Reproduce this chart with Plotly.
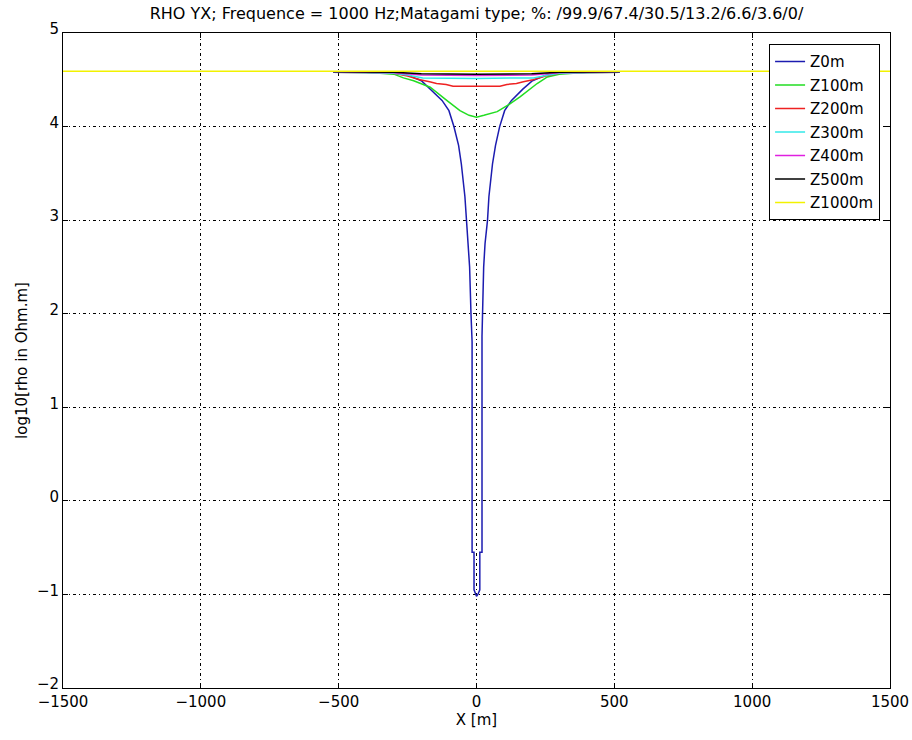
import plotly.graph_objects as go

title_text = "RHO YX; Frequence = 1000 Hz;Matagami type; %: /99.9/67.4/30.5/13.2/6.6/3.6/0/"

# Z0m
z0_x = [-520, -400, -300, -250, -200, -167, -125, -100, -82, -65, -55, -42, -37, -30, -25, -20, -18, -16, -16,
        -9, -9, -4, 0, 5, 12, 12, 20, 20, 22, 26, 31, 40, 45, 58, 69, 84, 102, 127, 168, 203, 252, 300, 400, 520]
z0_y = [4.58, 4.58, 4.57, 4.55, 4.49, 4.40, 4.28, 4.17, 4.00, 3.80, 3.60, 3.25, 3.00, 2.75, 2.50, 2.00, 1.76, 1.70, -0.55,
        -0.55, -0.95, -1.00, -1.02, -1.00, -0.95, -0.55, -0.55, 1.76, 2.00, 2.50, 2.75, 3.00, 3.25, 3.60, 3.80, 4.00, 4.17, 4.28, 4.40, 4.49, 4.55, 4.57, 4.58, 4.58]
# Z100m
z100_x = [-520, -400, -300, -265, -228, -168, -108, -60, -27, 0, 27, 75, 120, 159, 220, 257, 300, 400, 520]
z100_y = [4.58, 4.58, 4.56, 4.52, 4.49, 4.42, 4.28, 4.17, 4.12, 4.10, 4.12, 4.16, 4.24, 4.32, 4.46, 4.53, 4.56, 4.58, 4.58]
# Z200m
z200_x = [-520, -300, -250, -205, -170, -145, -110, -85, 0, 85, 110, 145, 170, 205, 250, 300, 520]
z200_y = [4.58, 4.57, 4.54, 4.50, 4.48, 4.46, 4.45, 4.43, 4.43, 4.43, 4.45, 4.46, 4.48, 4.50, 4.54, 4.57, 4.58]
# Z300m
z300_x = [-520, -300, -250, -195, 0, 207, 260, 300, 520]
z300_y = [4.58, 4.57, 4.55, 4.52, 4.515, 4.52, 4.55, 4.57, 4.58]
# Z400m
z400_x = [-520, -300, -200, 0, 200, 300, 520]
z400_y = [4.585, 4.575, 4.55, 4.545, 4.55, 4.575, 4.585]
# Z500m
z500_x = [-520, -300, -200, 0, 200, 300, 520]
z500_y = [4.585, 4.58, 4.565, 4.56, 4.565, 4.58, 4.585]
# Z1000m
z1000_x = [-1500, 1500]
z1000_y = [4.59, 4.59]

names = ["Z0m", "Z100m", "Z200m", "Z300m", "Z400m", "Z500m", "Z1000m"]
xs = [z0_x, z100_x, z200_x, z300_x, z400_x, z500_x, z1000_x]
ys = [z0_y, z100_y, z200_y, z300_y, z400_y, z500_y, z1000_y]
colors = ["#1c1cb0", "#22dd22", "#ee2222", "#33e8e8", "#e020e0", "#000000", "#f2f200"]

x_ticks = [-1500, -1000, -500, 0, 500, 1000, 1500]
y_ticks = [-2, -1, 0, 1, 2, 3, 4, 5]

fig = go.Figure()
for n, x, y, c in zip(names, xs, ys, colors):
    fig.add_trace(go.Scatter(x=x, y=y, mode="lines", name=n, legendgroup=n,
                             line=dict(color=c, width=1.5)))

font_family = "DejaVu Sans, Liberation Sans, Arial, sans-serif"
gd = "3px,3px,1px,3px"
fig.update_layout(
    width=912, height=740,
    margin=dict(l=63, r=22, t=33, b=52, autoexpand=False),
    paper_bgcolor="white", plot_bgcolor="white",
    font=dict(family=font_family, size=14, color="black"),
    title=dict(text=title_text, x=0.5, xref="paper", y=1 - 13/740, yref="container",
               yanchor="middle", xanchor="center", font=dict(size=16)),
    showlegend=True,
    legend=dict(x=0.988, y=0.983, xanchor="right", yanchor="top",
                bordercolor="black", borderwidth=1, bgcolor="white",
                font=dict(size=15), tracegroupgap=1, itemwidth=30),
    xaxis=dict(range=[-1500, 1500], tickvals=x_ticks, ticktext=[str(v).replace("-", "\u2212") for v in x_ticks],
               showgrid=True, gridcolor="black", griddash=gd, gridwidth=1, automargin=False,
               zeroline=False, showline=True, linecolor="black", linewidth=1, mirror="ticks",
               ticks="inside", ticklen=5, tickcolor="black", tickfont=dict(size=15),
               title=dict(text="X [m]", standoff=4, font=dict(size=15))),
    yaxis=dict(range=[-2, 5], tickvals=y_ticks, ticktext=[str(v).replace("-", "\u2212") for v in y_ticks],
               showgrid=True, gridcolor="black", griddash=gd, gridwidth=1, automargin=False,
               zeroline=False, showline=True, linecolor="black", linewidth=1, mirror="ticks",
               ticks="inside", ticklen=5, tickcolor="black", tickfont=dict(size=15),
               ticklabelshift=-4,
               title=dict(text="log10[rho in Ohm.m]", standoff=5, font=dict(size=15))),
)

fig.write_html("out.html")
